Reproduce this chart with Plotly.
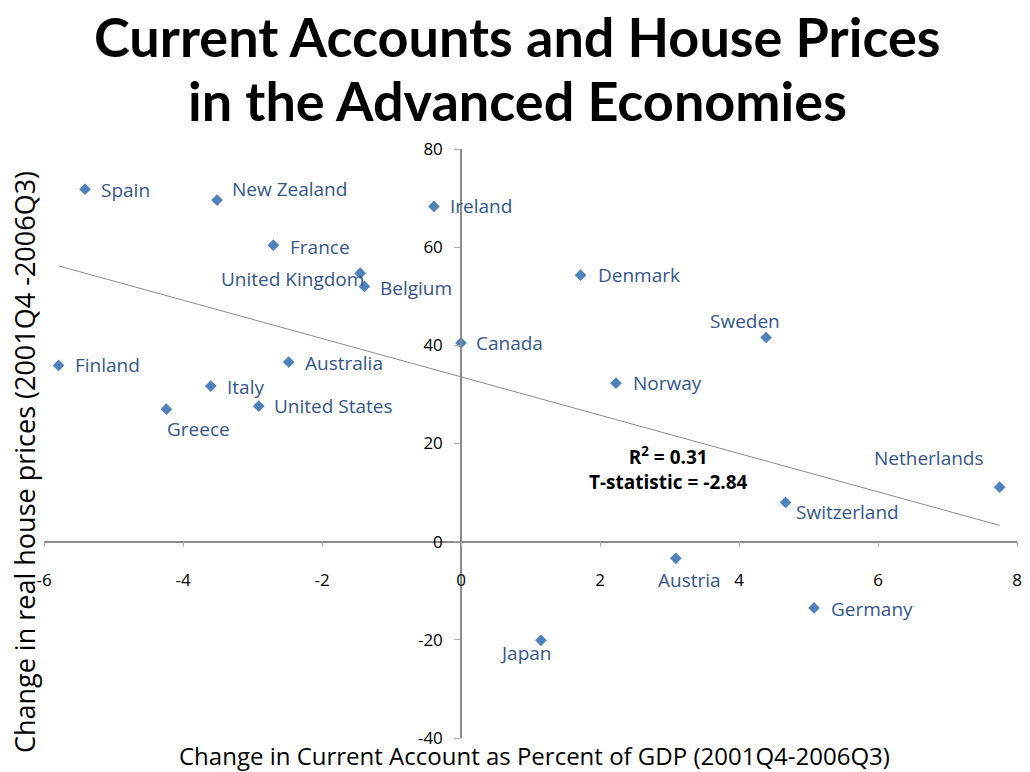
import numpy as np
import plotly.graph_objects as go

countries = ["Spain", "New Zealand", "Ireland", "France", "United Kingdom", "Belgium",
             "Denmark", "Sweden", "Canada", "Finland", "Australia", "Italy", "Norway",
             "Greece", "United States", "Netherlands", "Switzerland", "Austria",
             "Germany", "Japan"]
ca_change = [-5.41, -3.51, -0.39, -2.70, -1.45, -1.39, 1.72, 4.39, 0.0, -5.79,
             -2.48, -3.60, 2.23, -4.24, -2.91, 7.75, 4.67, 3.09, 5.08, 1.15]
house_change = [71.8, 69.6, 68.3, 60.4, 54.7, 52.0, 54.3, 41.6, 40.5, 35.9,
                36.6, 31.7, 32.3, 27.0, 27.6, 11.1, 8.0, -3.4, -13.5, -20.1]
x_ticks = [-6, -4, -2, 0, 2, 4, 6, 8]
x_ticktext = ["-6", "-4", "-2", "0", "2", "4", "6", "8"]
y_ticks = [-40, -20, 0, 20, 40, 60, 80]
y_ticktext = ["-40", "-20", "0", "20", "40", "60", "80"]
stats_text = "R<sup>2</sup> = 0.31<br>T-statistic = -2.84"

# label placement (style): xanchor, xshift, yshift in px
label_pos = {
    "Spain": ("left", 14, -1), "New Zealand": ("left", 13, 11), "Ireland": ("left", 14, 0),
    "France": ("left", 15, -2), "United Kingdom": ("right", 6, -6), "Belgium": ("left", 14, -2),
    "Denmark": ("left", 15, 0), "Sweden": ("center", -21, 16), "Canada": ("left", 13, 0),
    "Finland": ("left", 14, 0), "Australia": ("left", 14, -1), "Italy": ("left", 14, -1),
    "Norway": ("left", 15, 0), "Greece": ("left", -1, -20), "United States": ("left", 13, 0),
    "Netherlands": ("right", -14, 29), "Switzerland": ("left", 8, -10),
    "Austria": ("center", 14, -22), "Germany": ("left", 15, -1), "Japan": ("center", -15, -13),
}

xr = [-6, 8]
yr = [-40, 80]
W, H = 1030, 772
ML, MR, MT, MB = 44, 8, 149, 34
PW, PH = W - ML - MR, H - MT - MB

def px_to_paper_x(p):
    return (p - ML) / PW

def px_to_paper_y(p):
    return (H - MB - p) / PH

xa = np.array(ca_change)
ya = np.array(house_change)
slope, intercept = np.polyfit(xa, ya, 1)
tx = np.array([xa.min(), xa.max()])
ty = slope * tx + intercept

fig = go.Figure()
fig.add_trace(go.Scatter(x=tx, y=ty, mode="lines",
                         line=dict(color="#8c8c8c", width=1), hoverinfo="skip",
                         showlegend=False))
fig.add_trace(go.Scatter(x=ca_change, y=house_change, mode="markers",
                         marker=dict(symbol="diamond", size=9, color="#4F81BD"),
                         text=countries, showlegend=False))

label_font = dict(family="Open Sans, Noto Sans, sans-serif", size=19, color="#35568C")
annotations = []
for c, x, y in zip(countries, ca_change, house_change):
    anc, dx, dy = label_pos[c]
    annotations.append(dict(x=x, y=y, xref="x", yref="y", text=c, showarrow=False,
                            xanchor=anc, yanchor="middle", xshift=dx, yshift=dy,
                            font=label_font))

annotations.append(dict(x=2.98, y=15.0, xref="x", yref="y", text="<b>" + stats_text + "</b>",
                        showarrow=False, align="center",
                        font=dict(family="Open Sans, sans-serif", size=19, color="black")))

title_font = dict(family="Lato, Open Sans, sans-serif", size=54, color="black")
annotations.append(dict(x=px_to_paper_x(520), y=px_to_paper_y(36), xref="paper", yref="paper",
                        text="<b>Current Accounts and House Prices</b>", showarrow=False,
                        xanchor="center", yanchor="middle", font=title_font))
annotations.append(dict(x=px_to_paper_x(520), y=px_to_paper_y(101), xref="paper", yref="paper",
                        text="<b>in the Advanced Economies</b>", showarrow=False,
                        xanchor="center", yanchor="middle", font=title_font))

xtitle_font = dict(family="Open Sans, Noto Sans, sans-serif", size=24, color="black")
ytitle_font = dict(family="Open Sans, Noto Sans, sans-serif", size=27, color="black")
annotations.append(dict(x=px_to_paper_x(537), y=px_to_paper_y(755), xref="paper", yref="paper",
                        text="Change in Current Account as Percent of GDP (2001Q4-2006Q3)",
                        showarrow=False, xanchor="center", yanchor="middle",
                        font=xtitle_font))
annotations.append(dict(x=px_to_paper_x(24), y=px_to_paper_y(462), xref="paper", yref="paper",
                        text="Change in real house prices (2001Q4 -2006Q3)", textangle=-90,
                        showarrow=False, xanchor="center", yanchor="middle",
                        font=ytitle_font))

tick_font = dict(family="Open Sans, Noto Sans, sans-serif", size=17, color="black")
fig.update_layout(
    width=W, height=H,
    margin=dict(l=ML, r=MR, t=MT, b=MB),
    paper_bgcolor="white", plot_bgcolor="white",
    annotations=annotations,
    xaxis=dict(range=xr, tickvals=x_ticks, ticktext=x_ticktext, showgrid=False, zeroline=False,
               showline=True, linecolor="#8a8a8a", linewidth=1.5,
               ticks="outside", ticklen=5, tickcolor="#b0b0b0", tickwidth=1,
               anchor="free", position=(0 - yr[0]) / (yr[1] - yr[0]),
               ticklabelstandoff=18, tickfont=tick_font, domain=[0, 1]),
    yaxis=dict(range=yr, tickvals=y_ticks, ticktext=y_ticktext, showgrid=False, zeroline=False,
               showline=True, linecolor="#8a8a8a", linewidth=1.5,
               ticks="outside", ticklen=6, tickcolor="#b0b0b0", tickwidth=1,
               anchor="free", position=(0 - xr[0]) / (xr[1] - xr[0]),
               ticklabelstandoff=8, tickfont=tick_font, domain=[0, 1]),
)

fig.write_html("out.html", config={"displayModeBar": False},
               post_script="document.body.style.margin='0';document.body.style.overflow='hidden';")
